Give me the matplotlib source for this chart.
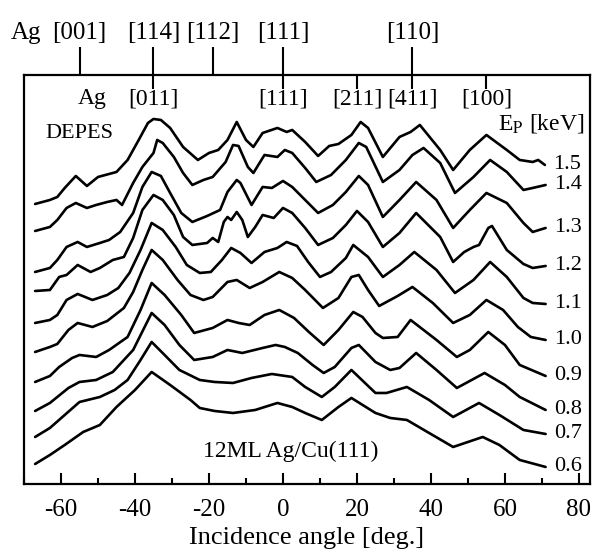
import matplotlib
matplotlib.use("Agg")
import matplotlib.pyplot as plt
from matplotlib.ticker import MultipleLocator

plt.rcParams['font.family'] = ['Liberation Serif', 'DejaVu Serif']
plt.rcParams['axes.unicode_minus'] = False
plt.rcParams['mathtext.fontset'] = 'stix'

# DEPES polar scans, 12ML Ag/Cu(111); intensity in arb. units above each curve's baseline
energies = ['1.5', '1.4', '1.3', '1.2', '1.1', '1.0', '0.9', '0.8', '0.7', '0.6']
offsets = [280, 253, 212, 193, 161, 132, 102, 73, 47, 20]

ang_15 = [-67, -63, -61, -59, -56, -53, -50, -47, -45, -42, -39, -36.5, -35, -33, -30.5, -27, -23, -20, -17.5, -15,
          -12.5, -10, -8, -5.5, -1.5, 1, 2.5, 6, 9.5, 12.5, 15, 18.5, 21, 23, 27, 31.5, 34.5, 37, 42.5, 46, 50.5,
          55, 60.5, 64, 67.5, 69, 70.8]
int_15 = [0, 4, 7, 16, 28, 18, 27, 30, 32, 44, 64, 81, 85, 84, 76, 57, 44, 51, 54, 64,
          82, 64, 57, 71, 76, 72, 74, 62, 48, 58, 60, 69, 82, 76, 47, 67, 72, 79, 54, 34, 54,
          69, 54, 44, 42, 44, 39]

ang_14 = [-67, -63, -61, -58.5, -56, -53, -50.5, -47.5, -45, -43.5, -40.5, -38, -35, -34, -32.5, -29.5, -27, -24.5,
          -21.5, -19, -15.5, -13.5, -12, -9.5, -8, -5, -1.5, 0.5, 2.5, 6, 9, 13, 17, 20.5, 22.5, 27, 31.5, 35, 38,
          42.5, 46.5, 51.5, 56, 60.5, 65, 67.5, 71]
int_14 = [0, 4, 11, 23, 28, 23, 26, 29, 31, 26, 48, 64, 78, 91, 88, 74, 58, 46,
          51, 54, 69, 86, 85, 64, 58, 76, 74, 81, 78, 63, 49, 56, 71, 88, 84, 49, 61, 76, 83,
          68, 38, 54, 71, 59, 41, 43, 46]

ang_13 = [-67, -63, -61, -58.5, -55.5, -53, -49.5, -47, -44, -40.5, -38, -35.5, -33, -30.5, -27.5, -24.5, -20.5,
          -17, -15, -12.5, -11.5, -8.5, -5.5, -3, 0, 2.5, 6, 9.5, 13.5, 17, 20.5, 23, 27, 31.5, 36, 41.5, 46,
          50.5, 55, 60.5, 65, 67.5, 71]
int_13 = [0, 4, 12, 25, 30, 25, 29, 32, 40, 59, 85, 100, 96, 79, 59, 50, 56,
          62, 80, 92, 89, 67, 85, 84, 91, 85, 72, 59, 67, 80, 96, 87, 55, 72, 90, 72, 44,
          62, 79, 69, 49, 40, 44]

ang_12 = [-67, -63, -60.5, -58.5, -55.5, -52, -49.5, -46, -43, -40.5, -38, -35, -32.5, -29.5, -27, -24.5, -20.5,
          -19, -17.5, -16, -15, -14, -12.5, -11, -9.5, -7.5, -5.5, -2.5, 0, 2.5, 6, 9.5, 13.5, 17, 20, 23, 27,
          31.5, 36, 42.5, 46, 49, 51.5, 53, 55.5, 56.5, 58, 60.5, 65, 67.5, 71]
int_12 = [0, 1, 14, 16, 26, 19, 23, 31, 34, 53, 81, 96, 91, 76, 54, 46, 48,
          53, 49, 69, 74, 71, 79, 71, 54, 64, 76, 73, 83, 78, 63, 46, 53, 66, 80, 69, 44,
          58, 78, 54, 29, 39, 44, 46, 63, 65, 56, 41, 27, 23, 25]

ang_11 = [-67, -63, -61, -58.5, -55.5, -51.5, -47.5, -44.5, -41.5, -38.5, -35.5, -32.5, -29, -26, -22.5, -19.5,
          -16.5, -14, -11.5, -8.5, -5, -1.5, 1, 3.8, 6.8, 10, 13, 17, 19, 23, 27, 31.5, 35.5, 41.5, 46.5, 51.5,
          56, 60.5, 65, 67.5, 71]
int_11 = [0, 3, 8, 23, 29, 23, 28, 35, 50, 73, 100, 93, 76, 58, 50, 51,
          63, 75, 70, 60, 71, 75, 81, 77, 61, 46, 51, 65, 78, 66, 46, 58, 71, 53, 30, 43,
          61, 46, 25, 20, 19]

ang_10 = [-67, -63, -61, -58, -55.5, -51.5, -47.5, -43, -40.5, -38, -35.5, -32.5, -28.5, -25, -21.5, -19, -15,
          -12.5, -9, -5.5, -1, 2.5, 6, 10.8, 15, 18.5, 20.5, 23, 26, 31, 35, 40.5, 46, 50.5, 55, 59.5, 63.5, 67, 71]
int_10 = [0, 5, 8, 22, 29, 25, 31, 44, 60, 82, 102, 92, 72, 57, 52, 55, 70,
          72, 64, 70, 80, 74, 62, 44, 54, 75, 77, 62, 46, 56, 65, 49, 29, 37, 52, 42, 25, 15, 12]

ang_09 = [-67, -63, -60.5, -57, -55, -50.5, -47, -42, -38.5, -35.5, -32, -27.5, -24, -19, -15, -12, -9, -5, -1,
          3, 7, 11, 15, 19, 21.5, 25, 27, 31, 34.5, 41.5, 47, 50.5, 55.5, 60, 64, 71]
int_09 = [0, 6, 15, 24, 27, 25, 32, 45, 72, 99, 87, 67, 49, 54, 62, 59, 57, 67, 72,
          64, 50, 37, 52, 70, 65, 49, 44, 45, 62, 42, 25, 32, 50, 37, 17, 6]

ang_08 = [-67, -63, -61, -58, -55, -50.5, -46, -40.5, -35.5, -32, -28, -24, -19, -15, -11, -5.5, -2, 0.5, 4, 8,
          11, 14, 18.5, 20.5, 25, 29, 31.5, 36, 41.5, 47, 54.5, 60, 64, 71]
int_08 = [0, 8, 14, 23, 29, 31, 39, 61, 98, 86, 66, 51, 54, 61, 58, 63, 66, 64, 58, 46,
          38, 44, 63, 66, 49, 41, 43, 58, 41, 23, 38, 26, 14, 1]

ang_07 = [-67, -63, -59, -55, -49.5, -45.5, -42, -38.5, -35.5, -32, -28, -22.5, -18.5, -13.5, -8.5, -3, 2.5, 6,
          10.5, 14, 18.5, 25, 28, 33.5, 39.5, 46, 53, 58.5, 65, 71]
int_07 = [0, 9, 22, 35, 40, 47, 57, 77, 95, 82, 67, 57, 55, 54, 59, 63, 60, 50,
          40, 50, 67, 44, 44, 50, 37, 20, 34, 22, 7, 3]

ang_06 = [-67, -63, -59, -54, -49.5, -45, -40, -35.5, -30.5, -25, -22.5, -18.5, -13.5, -7.5, -1.5, 2.5, 6, 10.5,
          15, 18.5, 25, 29, 33.5, 39.5, 46, 54, 58.5, 64, 71]
int_06 = [0, 9, 19, 32, 39, 57, 74, 92, 79, 64, 56, 53, 51, 54, 61, 57, 51, 44,
          57, 66, 51, 46, 44, 31, 17, 27, 19, 4, -3]

angles = [ang_15, ang_14, ang_13, ang_12, ang_11, ang_10, ang_09, ang_08, ang_07, ang_06]
intens = [int_15, int_14, int_13, int_12, int_11, int_10, int_09, int_08, int_07, int_06]

# crystallographic directions
top_out_ticks = [-55, -35, -19, 0, 35]
top_out_labels = ['[001]', '[114]', '[112]', '[111]', '[110]']
inner_ticks = [-35, 0, 20, 35, 55]
inner_labels = ['[011]', '[111]', '[211]', '[411]', '[100]']

fig = plt.figure(figsize=(6.02, 5.57), dpi=100)
ax = fig.add_axes([0.0399, 0.1311, 0.9402, 0.7343])

for a, y, off, e in zip(angles, intens, offsets, energies):
    ys = [off + v for v in y]
    ax.plot(a, ys, color='black', lw=1.9, solid_joinstyle='round', solid_capstyle='round')
    ax.text(a[-1] + 2.2, ys[-1], e, fontsize=16, va='center', ha='left')

ax.set_xlim(-70, 83)
ax.set_ylim(0, 409)
ax.set_yticks([])
ax.xaxis.set_major_locator(MultipleLocator(20))
ax.xaxis.set_minor_locator(MultipleLocator(10))
ax.tick_params(axis='x', which='major', direction='in', length=8, width=1.5, labelsize=18, pad=11)
ax.tick_params(axis='x', which='minor', direction='in', length=4.5, width=1.5)
ax.set_xlabel('Incidence angle [deg.]', fontsize=19, labelpad=4)
for s in ax.spines.values():
    s.set_linewidth(1.6)

ax2 = ax.twiny()
ax2.set_xlim(ax.get_xlim())
ax2.set_xticks(top_out_ticks)
ax2.set_xticklabels(top_out_labels)
ax2.tick_params(axis='x', direction='out', length=20, width=1.5, labelsize=18, pad=2)
for s in ax2.spines.values():
    s.set_visible(False)

ax3 = ax.twiny()
ax3.set_xlim(ax.get_xlim())
ax3.set_xticks(inner_ticks)
ax3.set_xticklabels([])
ax3.tick_params(axis='x', direction='in', length=10, width=1.5)
for s in ax3.spines.values():
    s.set_visible(False)

ax.text(-69.5, 451, 'Ag', fontsize=18, ha='center', va='center')
ax.text(-51.5, 385, 'Ag', fontsize=17, ha='center', va='center')
for t, lab in zip(inner_ticks, inner_labels):
    ax.text(t, 385, lab, fontsize=17, ha='center', va='center')

ax.text(-55, 346, 'DEPES', fontsize=16, ha='center', va='baseline')
ax.text(58, 354, r'E$_{\mathrm{P}}$ [keV]', fontsize=17, ha='left', va='baseline')
ax.text(-21.6, 27, '12ML Ag/Cu(111)', fontsize=17, ha='left', va='baseline')

fig.savefig('out.png', dpi=100)
